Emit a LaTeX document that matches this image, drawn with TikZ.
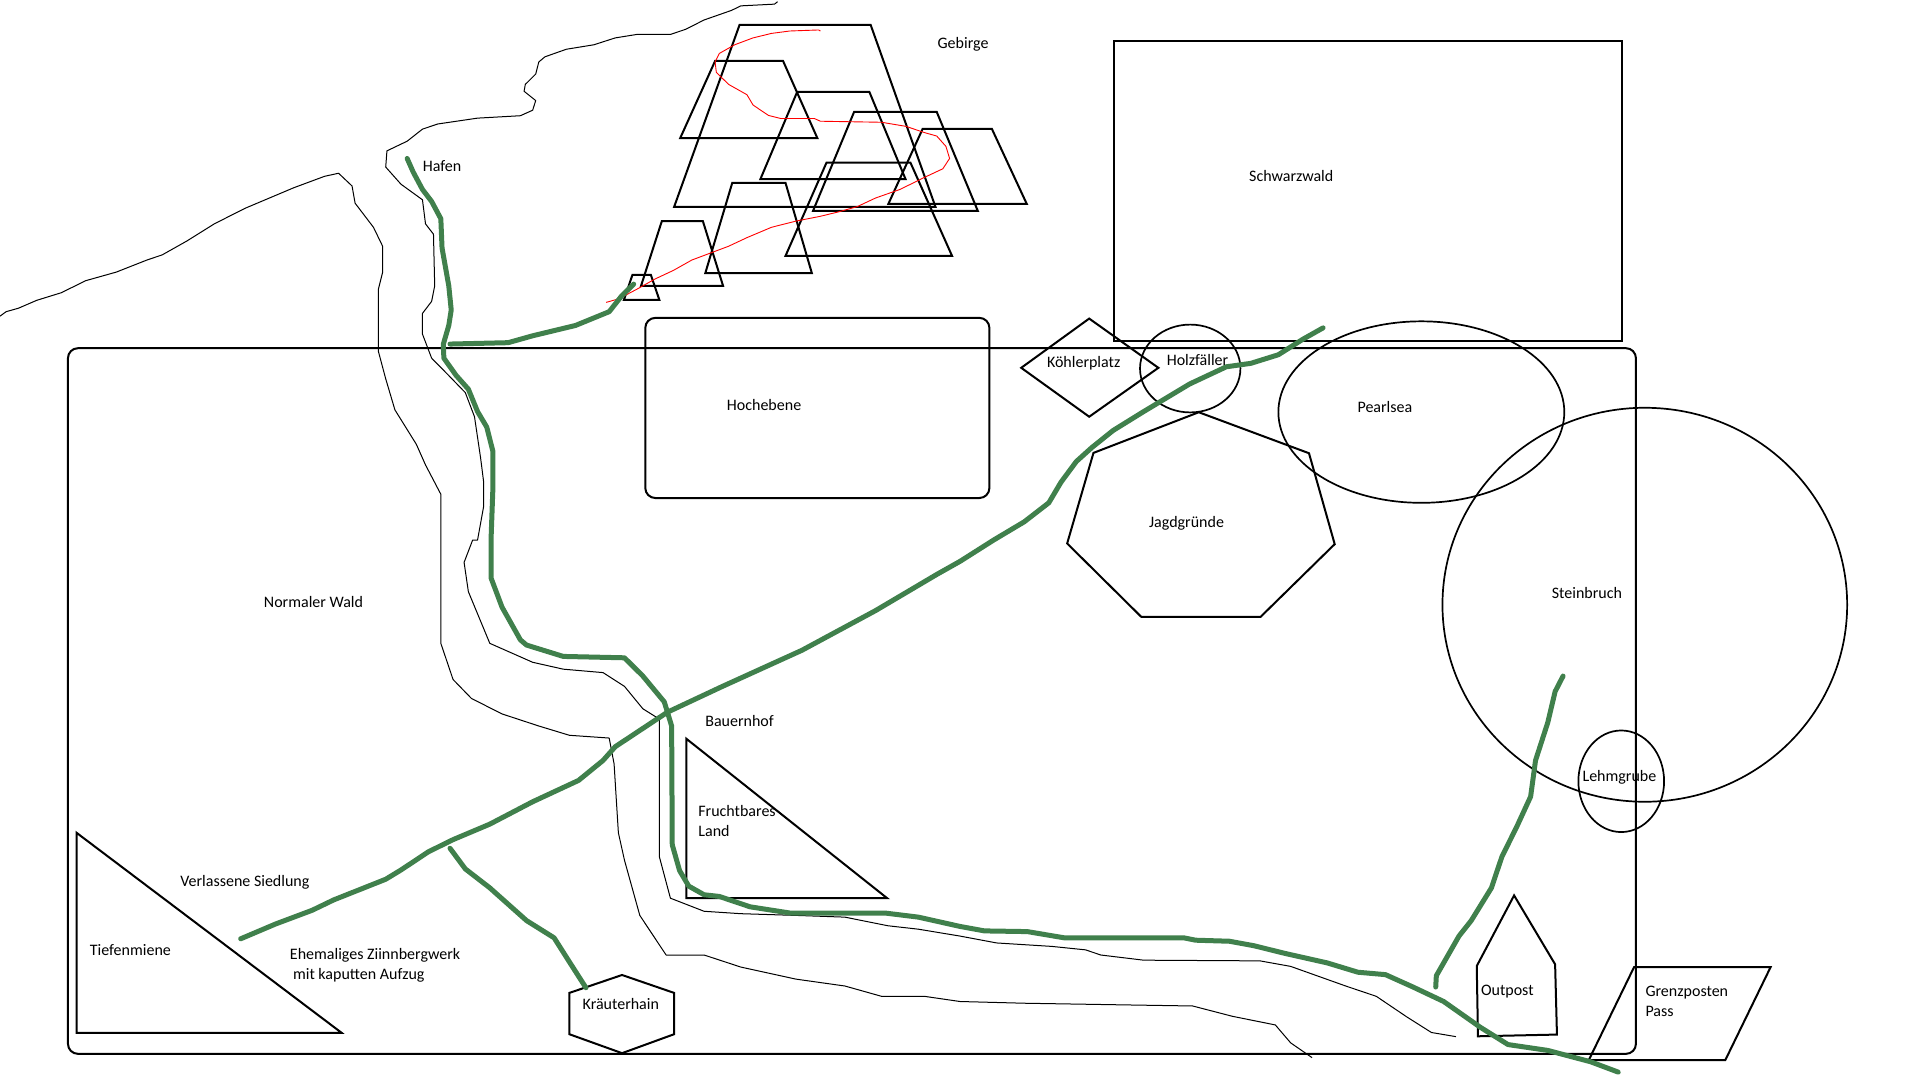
\documentclass[tikz,border=0pt]{standalone}
\usepackage{fontspec}
\setmainfont{Carlito}
\definecolor{pathgreen}{HTML}{40804C}
\tikzset{
  outline/.style={draw=black,line width=1pt,line join=miter},
  thinoutline/.style={draw=black,line width=0.85pt},
  coast/.style={draw=black,line width=0.5pt,line join=round},
  redtrail/.style={draw=red,line width=0.45pt,line join=round},
  road/.style={draw=pathgreen,line width=2.5pt,line join=round,line cap=round},
  lbl/.style={inner sep=0pt,yshift=-0.6pt,font=\fontsize{8}{9}\selectfont,text height=5.5pt,text depth=1.6pt},
  lblw/.style={lbl,anchor=west}
}
\begin{document}
\begin{tikzpicture}[x=0.30612pt,y=-0.17219pt]
\useasboundingbox (0,0) rectangle (3136,3136);
% coast lines
\draw[coast] (1270,5)--(1265,12)--(1210,17)--(1195,30)--(1150,58)--(1120,85)--(1095,100)--(1040,100)--(1005,110)--(970,130)--(925,143)--(890,165)--(880,180)--(875,215)--(858,245)--(856,265)--(875,292)--(870,320)--(850,336)--(780,343)--(715,360)--(690,375)--(665,410)--(632,438)--(630,485)--(655,535)--(690,580)--(695,650)--(708,680)--(710,830)--(705,875)--(690,910)--(690,970)--(705,1040)--(730,1085)--(760,1140)--(775,1210)--(785,1330)--(790,1400)--(790,1470)--(780,1568)--(772,1568)--(758,1633)--(765,1718)--(800,1868)--(870,1923)--(920,1943)--(985,1953)--(1020,1993)--(1050,2058)--(1077,2088)--(1077,2488)--(1095,2608)--(1150,2646)--(1210,2653)--(1300,2658)--(1380,2663)--(1450,2688)--(1500,2698)--(1568,2718)--(1628,2738)--(1718,2748)--(1773,2758)--(1798,2773)--(1868,2788)--(2058,2790)--(2108,2806)--(2198,2863)--(2248,2893)--(2298,2953)--(2338,2998)--(2378,3010);
\draw[coast] (0,918)--(10,905)--(30,895)--(60,872)--(100,850)--(140,815)--(190,790)--(240,755)--(265,740)--(305,700)--(350,650)--(400,605)--(480,545)--(530,512)--(553,503)--(575,540)--(580,590)--(610,660)--(625,715)--(625,790)--(618,840)--(618,1020)--(630,1100)--(645,1190)--(680,1290)--(695,1350)--(720,1435)--(720,1868)--(740,1973)--(770,2028)--(820,2073)--(880,2108)--(930,2135)--(995,2143)--(1003,2218)--(1010,2418)--(1020,2498)--(1045,2658)--(1088,2773)--(1150,2773)--(1210,2808)--(1300,2843)--(1380,2863)--(1440,2893)--(1510,2893)--(1568,2908)--(1673,2913)--(1843,2918)--(1948,2921)--(2013,2951)--(2083,2976)--(2108,3028)--(2143,3071);
% mountains
\draw[outline] (1208,72)--(1422,72)--(1528,601)--(1101,601)--cycle;
\draw[outline] (1168,177)--(1279,177)--(1335,401)--(1111,401)--cycle;
\draw[outline] (1302,267)--(1420,267)--(1479,520)--(1242,520)--cycle;
\draw[outline] (1395,325)--(1530,325)--(1597,612)--(1328,612)--cycle;
\draw[outline] (1507,374)--(1620,374)--(1677,592)--(1451,592)--cycle;
\draw[outline] (1350,472)--(1487,472)--(1555,743)--(1283,743)--cycle;
\draw[outline] (1196,531)--(1283,531)--(1326,793)--(1152,793)--cycle;
\draw[outline] (1081,642)--(1148,642)--(1181,830)--(1047,830)--cycle;
\draw[outline] (1033,798)--(1063,798)--(1077,871)--(1019,871)--cycle;
\draw[redtrail] (1340,90)--(1337,87)--(1290,90)--(1260,97)--(1230,110)--(1200,130)--(1175,155)--(1168,180)--(1170,210)--(1190,245)--(1220,275)--(1230,305)--(1255,335)--(1275,344)--(1330,344)--(1340,352)--(1440,355)--(1480,367)--(1510,385)--(1530,395)--(1545,425)--(1551,460)--(1540,490)--(1510,515)--(1470,550)--(1430,575)--(1400,600)--(1370,615)--(1340,628)--(1300,642)--(1260,660)--(1220,690)--(1190,715)--(1160,735)--(1130,755)--(1100,785)--(1070,810)--(1040,840)--(1010,868)--(990,878);
% regions
\draw[outline,rounded corners=5pt] (111,1011) rectangle (2672,3060);
\draw[outline,rounded corners=5pt] (1054,923) rectangle (1616,1446);
\draw[outline] (1820,118) rectangle (2649,989);
\draw[outline] (1779,925)--(1892,1068)--(1779,1210)--(1668,1068)--cycle;
\draw[thinoutline] (1944,1070) ellipse [x radius=82, y radius=127.5];
\draw[thinoutline] (2321.5,1196.5) ellipse [x radius=233.5, y radius=263.5];
\draw[thinoutline] (2686.5,1756) ellipse [x radius=330.5, y radius=572];
\draw[thinoutline] (2648,2268.5) ellipse [x radius=70, y radius=147.5];
\draw[outline] (1958,1197)--(2138,1316)--(2180,1580)--(2059,1791)--(1864,1791)--(1743,1578)--(1786,1315)--cycle;
\draw[outline] (1016,2831)--(1101,2883)--(1101,3003)--(1016,3058)--(930,3003)--(930,2883)--cycle;
\draw[outline] (125,2418)--(558,2999)--(125,2999)--cycle;
\draw[outline] (1121,2145)--(1449,2608)--(1121,2608)--cycle;
\draw[outline] (2473,2600)--(2540,2800)--(2543,3004)--(2414,3009)--(2412,2805)--cycle;
\draw[outline] (2669,2808)--(2892,2808)--(2818,3078)--(2595,3078)--cycle;
% roads
\draw[road] (665,460)--(675,500)--(690,550)--(705,585)--(720,635)--(722,720)--(733,830)--(737,900)--(733,945)--(724,1000)--(725,1040)--(745,1090)--(765,1130)--(780,1195)--(795,1240)--(805,1310)--(805,1420)--(802,1568)--(802,1678)--(820,1763)--(850,1858)--(860,1873)--(920,1906)--(1020,1910)--(1050,1963)--(1085,2038)--(1097,2108)--(1098,2453)--(1110,2528)--(1125,2573)--(1150,2598)--(1175,2603)--(1225,2633)--(1290,2651)--(1445,2651)--(1500,2663)--(1568,2690)--(1608,2703)--(1678,2705)--(1738,2723)--(1933,2723)--(1953,2730)--(2008,2733)--(2048,2746)--(2098,2768)--(2168,2796)--(2218,2823)--(2263,2830)--(2308,2866)--(2358,2908)--(2418,2983)--(2463,3033)--(2528,3050)--(2598,3083)--(2643,3113);
\draw[road] (735,999)--(830,995)--(870,975)--(940,945)--(995,905)--(1015,860)--(1035,825);
\draw[road] (393,2726)--(450,2683)--(510,2643)--(545,2613)--(630,2553)--(655,2526)--(700,2473)--(740,2438)--(800,2393)--(870,2328)--(945,2266)--(985,2208)--(1005,2168)--(1090,2068)--(1180,1993)--(1310,1888)--(1430,1773)--(1530,1668)--(1568,1630)--(1623,1568)--(1673,1515)--(1713,1460)--(1733,1400)--(1758,1340)--(1783,1300)--(1818,1250)--(1868,1195)--(1943,1115)--(2003,1065)--(2043,1055)--(2088,1030)--(2128,985)--(2161,952);
\draw[road] (735,2463)--(760,2523)--(800,2578)--(860,2673)--(905,2723)--(930,2793)--(957,2868);
\draw[road] (2345,2866)--(2346,2833)--(2383,2718)--(2403,2673)--(2436,2578)--(2453,2488)--(2478,2398)--(2500,2313)--(2508,2208)--(2528,2098)--(2540,2008)--(2553,1963);
% labels
\node[lbl] (gebirge) at (1573,125) {Gebirge};
\node[lbl] (hafen) at (722,483) {Hafen};
\node[lbl] (hochebene) at (1248,1177) {Hochebene};
\node[lbl] (schwarzwald) at (2109,512) {Schwarzwald};
\node[lbl] (koehlerplatz) at (1770,1052) {Köhlerplatz};
\node[lbl] (holzfaeller) at (1956,1046) {Holzfäller};
\node[lbl] (pearlsea) at (2262,1182) {Pearlsea};
\node[lbl] (jagd) at (1938,1516) {Jagdgründe};
\node[lbl] (wald) at (512,1750) {Normaler Wald};
\node[lbl] (bauernhof) at (1208,2094) {Bauernhof};
\node[lblw] (frucht) at (1140,2356) {Fruchtbares};
\node[lblw] (land) at (1140,2413) {Land};
\node[lbl] (siedlung) at (400,2559) {Verlassene Siedlung};
\node[lbl] (tiefen) at (213,2759) {Tiefenmiene};
\node[lblw] (zinn) at (473,2771) {Ehemaliges Ziinnbergwerk};
\node[lblw] (aufzug) at (478,2830) {mit kaputten Aufzug};
\node[lbl] (kraeuter) at (1014,2917) {Kräuterhain};
\node[lbl] (stein) at (2592,1722) {Steinbruch};
\node[lbl] (lehm) at (2645,2254) {Lehmgrube};
\node[lbl] (outpost) at (2462,2876) {Outpost};
\node[lblw] (grenz) at (2687,2879) {Grenzposten};
\node[lblw] (pass) at (2687,2936) {Pass};
\end{tikzpicture}
\end{document}
